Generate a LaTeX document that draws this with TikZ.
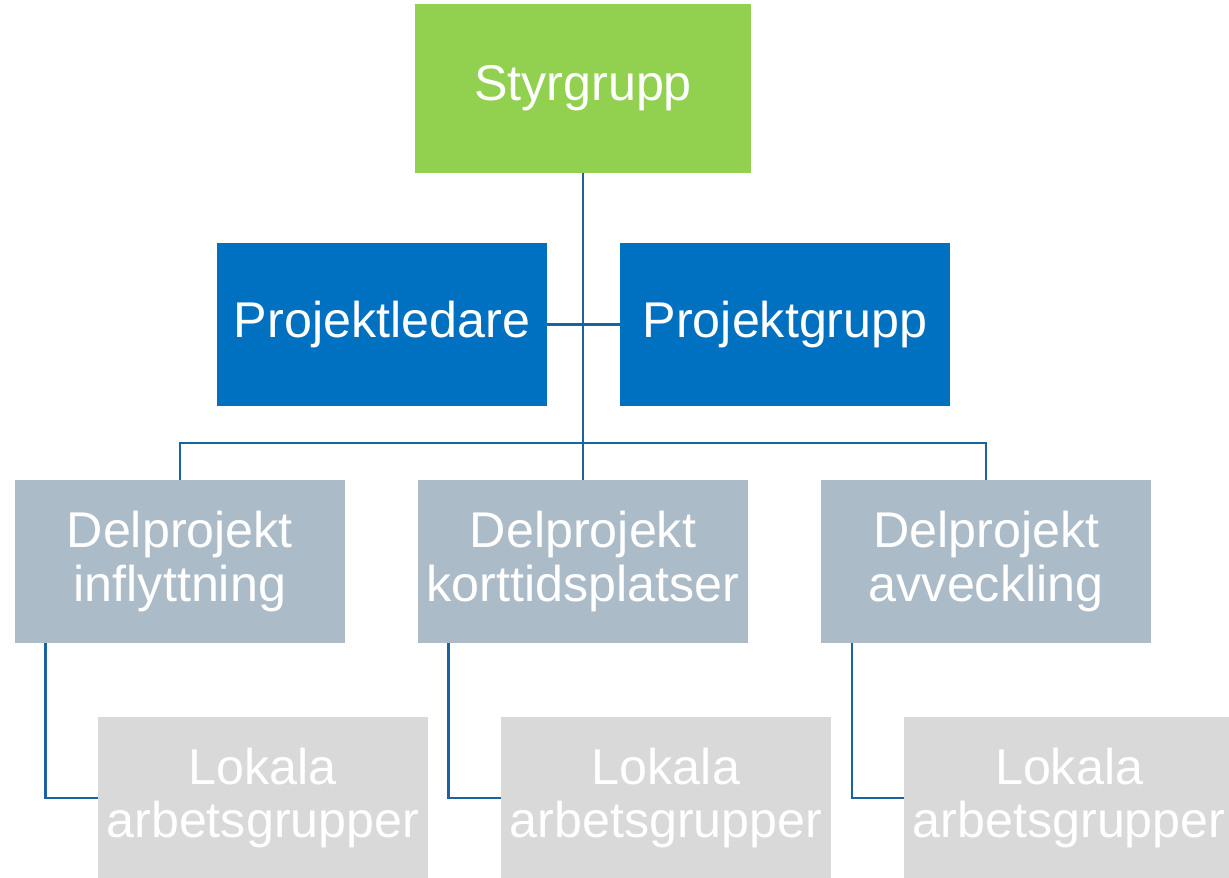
\documentclass[tikz,border=0pt]{standalone}
\usepackage{fontspec}
\setmainfont{Liberation Sans}
\usetikzlibrary{positioning}
\definecolor{styrgreen}{HTML}{92D050}
\definecolor{projblue}{HTML}{0070C0}
\definecolor{delgray}{HTML}{ACBBC8}
\definecolor{lokgray}{HTML}{D9D9D9}
\definecolor{linkblue}{HTML}{1B63A0}
\tikzstyle{block} = [rectangle, fill=delgray, text=white, text width=6.4cm, align=center, minimum width=6.6cm, minimum height=3.26cm, inner sep=0pt, font=\fontsize{28.6}{30.5}\selectfont]
\tikzstyle{link} = [draw=linkblue, line width=1.4pt]

\begin{document}
\begin{tikzpicture}[x=0.02cm, y=-0.02cm, node distance = 1.46cm and 1.45cm]
        \useasboundingbox (0,0) rectangle (1229,877);

        \node [block, fill=styrgreen, minimum width=6.72cm, minimum height=3.38cm] (styrgrupp) at (583,88.5) {Styrgrupp};
        \node [block, fill=projblue] (projektledare) at (382,324.5) {Projektledare};
        \node [block, fill=projblue, right = of projektledare] (projektgrupp) {Projektgrupp};
        \node [block] (delkort) at (583,561.5) {Delprojekt\\korttidsplatser};
        \node [block, left = of delkort] (delinfl) {Delprojekt\\inflyttning};
        \node [block, right = of delkort] (delavv) {Delprojekt\\avveckling};
        \node [block, fill=lokgray, below = of delinfl, xshift=1.66cm] (lokinfl) {Lokala\\arbetsgrupper};
        \node [block, fill=lokgray, below = of delkort, xshift=1.66cm] (lokkort) {Lokala\\arbetsgrupper};
        \node [block, fill=lokgray, below = of delavv, xshift=1.66cm] (lokavv) {Lokala\\arbetsgrupper};
        \coordinate (bus) at (583,443);

        \draw [link] (styrgrupp.south) -- (delkort.north);
        \draw [link] (projektledare.east) -- (projektgrupp.west);
        \draw [link] (delinfl.north) |- (bus) -| (delavv.north);
        \draw [link] ([xshift=0.62cm]delinfl.south west) |- (lokinfl.west);
        \draw [link] ([xshift=0.62cm]delkort.south west) |- (lokkort.west);
        \draw [link] ([xshift=0.62cm]delavv.south west) |- (lokavv.west);
\end{tikzpicture}
\end{document}
